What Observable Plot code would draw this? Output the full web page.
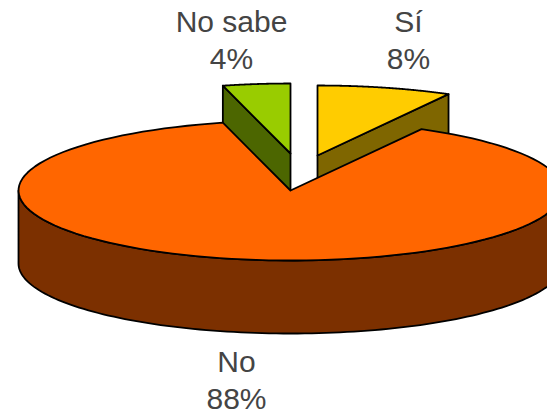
<!DOCTYPE html>
<html>
<head>
<meta charset="utf-8">
<style>
  html, body { margin: 0; padding: 0; background: #fff; overflow: hidden; }
  svg { display: block; }
</style>
<script src="https://cdn.jsdelivr.net/npm/d3@7"></script>
<script src="https://cdn.jsdelivr.net/npm/@observablehq/plot@0.6"></script>
</head>
<body>
<script>
// Survey answers, in drawing order clockwise from twelve o'clock
const answers = ["Sí", "No", "No sabe"];
const shares = [8, 88, 4];
const topColors = ["#FFCC00", "#FF6600", "#99CC00"];
const sideColors = ["#7F6600", "#7C3000", "#4C6600"];

// Tilted disc geometry, in plot units
const radiusX = 272, radiusY = 70, depth = 73;
const center = {x: 290, y: 190};
const explode = [{x: 27, y: -35}, {x: 0, y: 0}, {x: 0, y: -37}];
const labelAt = [{x: 408, y: 22}, {x: 236, y: 362}, {x: 231, y: 22}];

// Slice boundaries as angles from the vertical, clockwise
const ends = d3.cumsum(shares);
const slices = answers.map((name, i) => {
  const a0 = ((ends[i] - shares[i]) / 100) * 2 * Math.PI;
  const a1 = (ends[i] / 100) * 2 * Math.PI;
  const c = {x: center.x + explode[i].x, y: center.y + explode[i].y};
  return {name, share: shares[i], a0, a1, c, top: topColors[i], side: sideColors[i], label: labelAt[i]};
});

const rim = (c, a, drop = 0) => ({
  x: c.x + radiusX * Math.sin(a),
  y: c.y - radiusY * Math.cos(a) + drop
});
const arc = (c, a0, a1, drop = 0) =>
  d3.range(0, 121).map((k) => rim(c, a0 + ((a1 - a0) * k) / 120, drop));
const closed = (pts) => [...pts, pts[0]];

const face = (pts, fill) =>
  Plot.line(closed(pts), {
    x: "x", y: "y", fill, stroke: "#000", strokeWidth: 1.8,
    strokeLinejoin: "round", clip: "frame"
  });

// Flat top of a slice, with its point at the slice centre
const topFace = (s) => face([s.c, ...arc(s.c, s.a0, s.a1)], s.top);

// Cut wall running from the centre to one rim corner, extruded downward
const cutWall = (s, a) => {
  const p = rim(s.c, a);
  return face([s.c, p, {x: p.x, y: p.y + depth}, {x: s.c.x, y: s.c.y + depth}], s.side);
};

// Curved outer wall along the near half of the disc
const outerWall = (s) => {
  const from = Math.max(s.a0, Math.PI / 2), to = Math.min(s.a1, (3 * Math.PI) / 2);
  return face([...arc(s.c, from, to), ...arc(s.c, to, from, depth)], s.side);
};

const [si, no, noSabe] = slices;

const labelLines = slices.flatMap((s) => [
  {text: s.name, x: s.label.x, y: s.label.y},
  {text: `${s.share}%`, x: s.label.x, y: s.label.y + 37}
]);

const chart = Plot.plot({
  width: 547,
  height: 414,
  margin: 0,
  x: {domain: [0, 547], range: [0, 547], axis: null},
  y: {domain: [0, 414], range: [0, 414], axis: null},
  marks: [
    // The pulled-out slices sit behind the large one
    cutWall(si, si.a1),
    topFace(si),
    cutWall(noSabe, noSabe.a0),
    topFace(noSabe),
    outerWall(no),
    topFace(no),
    Plot.text(labelLines, {
      x: "x", y: "y", text: "text",
      fontFamily: "Liberation Sans", fontSize: 30, fill: "#444",
      textAnchor: "middle", lineAnchor: "middle"
    })
  ]
});
document.body.append(chart);
</script>
</body>
</html>
